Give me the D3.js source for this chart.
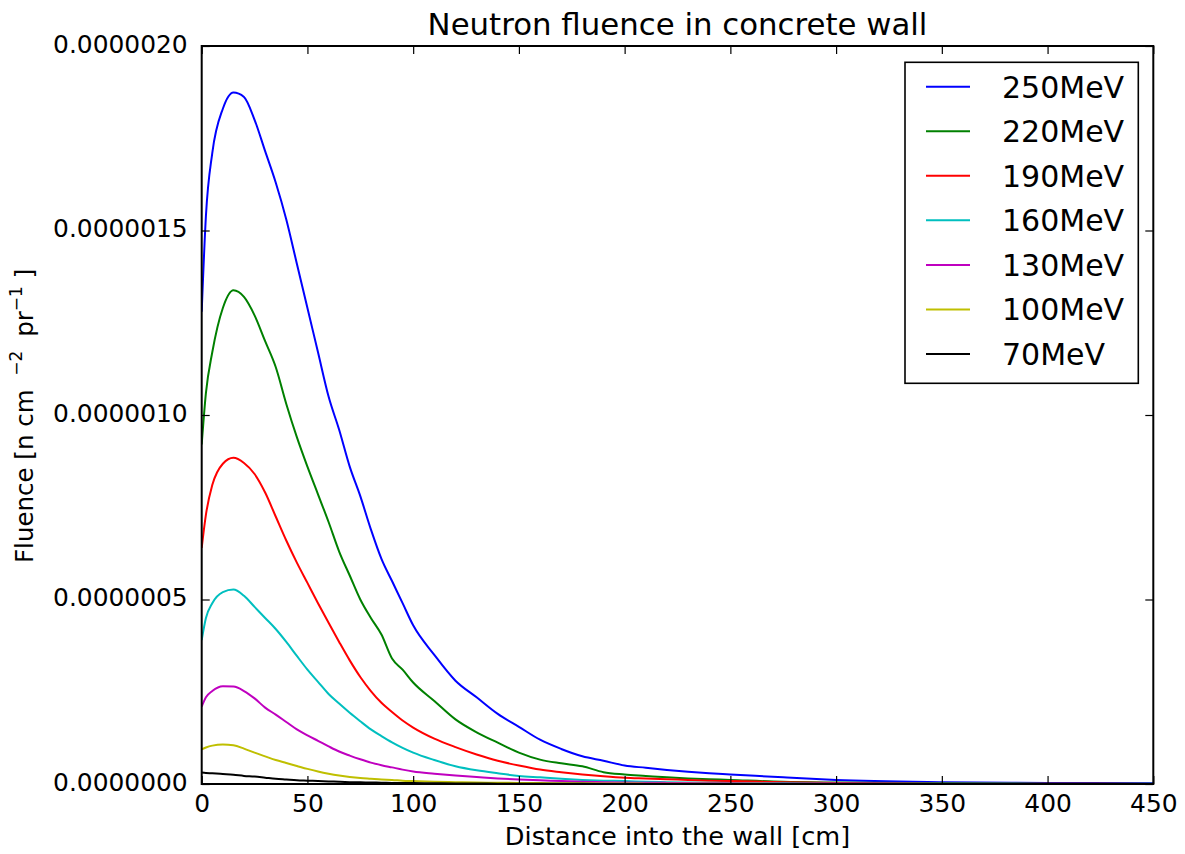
<!DOCTYPE html>
<html>
<head>
<meta charset="utf-8">
<script src="https://cdn.jsdelivr.net/npm/d3@7"></script>
<style>
body { margin: 0; background: #fff; }
text { font-family: "DejaVu Sans", sans-serif; fill: #000; }
</style>
</head>
<body>
<svg id="chart" width="1185" height="854"></svg>
<script>
// distance into the wall [cm]
const distance = [0, 2, 5, 10, 15, 20, 25, 30, 35, 40, 45, 50, 55, 60, 65, 70, 75, 80, 85, 90, 95, 100,
    110, 120, 130, 140, 150, 160, 170, 180, 190, 200, 210, 220, 230, 240, 250, 275, 300, 350, 400, 450];

// fluence values, in units of 1e-6 n cm^-2 pr^-1
const f250 = [1.28, 1.54, 1.71, 1.83, 1.874, 1.862, 1.80, 1.715, 1.63, 1.53, 1.41, 1.29, 1.17, 1.05, 0.96, 0.86, 0.78, 0.69, 0.61, 0.55, 0.49, 0.43,
    0.35, 0.28, 0.235, 0.19, 0.155, 0.12, 0.095, 0.075, 0.063, 0.05, 0.044, 0.038, 0.033, 0.029, 0.026, 0.018, 0.011, 0.005, 0.003, 0.002];
const f220 = [0.92, 1.06, 1.17, 1.29, 1.338, 1.32, 1.27, 1.20, 1.13, 1.03, 0.94, 0.86, 0.785, 0.71, 0.63, 0.565, 0.50, 0.45, 0.405, 0.34, 0.31, 0.275,
    0.225, 0.175, 0.14, 0.112, 0.085, 0.066, 0.056, 0.048, 0.032, 0.026, 0.022, 0.018, 0.015, 0.013, 0.011, 0.006, 0.004, 0.002, 0.001, 0.001];
const f190 = [0.64, 0.73, 0.81, 0.868, 0.884, 0.87, 0.84, 0.79, 0.725, 0.66, 0.60, 0.545, 0.49, 0.437, 0.385, 0.335, 0.29, 0.252, 0.22, 0.195, 0.172, 0.153,
    0.123, 0.10, 0.08, 0.063, 0.05, 0.039, 0.032, 0.026, 0.021, 0.017, 0.015, 0.013, 0.011, 0.009, 0.008, 0.005, 0.003, 0.001, 0.0005, 0.0003];
const f160 = [0.39, 0.45, 0.49, 0.52, 0.527, 0.51, 0.48, 0.45, 0.42, 0.385, 0.347, 0.31, 0.277, 0.244, 0.218, 0.193, 0.17, 0.148, 0.13, 0.113, 0.098, 0.085,
    0.065, 0.048, 0.037, 0.029, 0.022, 0.018, 0.014, 0.011, 0.009, 0.008, 0.006, 0.005, 0.004, 0.0035, 0.003, 0.002, 0.001, 0.0005, 0.0003, 0.0002];
const f130 = [0.21, 0.235, 0.252, 0.265, 0.264, 0.252, 0.232, 0.207, 0.188, 0.168, 0.148, 0.132, 0.117, 0.102, 0.088, 0.077, 0.067, 0.058, 0.051, 0.045, 0.039, 0.034,
    0.028, 0.023, 0.019, 0.015, 0.012, 0.01, 0.008, 0.006, 0.005, 0.004, 0.0035, 0.003, 0.0025, 0.002, 0.0018, 0.001, 0.0007, 0.0003, 0.0002, 0.0001];
const f100 = [0.094, 0.099, 0.104, 0.107, 0.105, 0.096, 0.085, 0.075, 0.065, 0.057, 0.049, 0.041, 0.034, 0.028, 0.023, 0.019, 0.016, 0.014, 0.012, 0.011, 0.009, 0.008,
    0.006, 0.005, 0.004, 0.0035, 0.003, 0.0025, 0.002, 0.0018, 0.0015, 0.0012, 0.001, 0.0008, 0.0007, 0.0006, 0.0005, 0.0003, 0.0002, 0.0001, 0.0001, 0.0001];
const f70 = [0.031, 0.030, 0.029, 0.027, 0.025, 0.022, 0.020, 0.017, 0.014, 0.012, 0.010, 0.009, 0.008, 0.007, 0.006, 0.005, 0.0045, 0.004, 0.0035, 0.003, 0.0027, 0.0024,
    0.002, 0.0016, 0.0013, 0.001, 0.0008, 0.0006, 0.0005, 0.0004, 0.0003, 0.0003, 0.0002, 0.0002, 0.0002, 0.0001, 0.0001, 0.0001, 0.0001, 0, 0, 0];

const energies = ["250MeV", "220MeV", "190MeV", "160MeV", "130MeV", "100MeV", "70MeV"];
const colors = ["#0000ff", "#008000", "#ff0000", "#00bfbf", "#bf00bf", "#bfbf00", "#000000"];
const xTicks = [0, 50, 100, 150, 200, 250, 300, 350, 400, 450];
const yTicks = [0, 0.5e-6, 1.0e-6, 1.5e-6, 2.0e-6];

const unit = 1e-6;
const allSeries = [f250, f220, f190, f160, f130, f100, f70];

const svg = d3.select("#chart");
const plotL = 201.7, plotR = 1153.3, plotT = 46, plotB = 784;

const x = d3.scaleLinear().domain([0, 450]).range([plotL, plotR]);
const y = d3.scaleLinear().domain([0, 2e-6]).range([plotB, plotT]);

svg.append("defs").append("clipPath").attr("id", "plotclip")
    .append("rect").attr("x", plotL).attr("y", plotT - 2).attr("width", plotR - plotL).attr("height", plotB - plotT + 2);

// curves
const line = d3.line()
    .curve(d3.curveMonotoneX)
    .x(d => x(d[0]))
    .y(d => y(d[1]));

const curves = svg.append("g").attr("clip-path", "url(#plotclip)");
allSeries.forEach((vals, i) => {
    let pts = distance.map((d, j) => [d, vals[j] * unit]);
    curves.append("path")
        .datum(pts)
        .attr("d", line)
        .attr("fill", "none")
        .attr("stroke", colors[i])
        .attr("stroke-width", 2)
        .attr("stroke-linejoin", "round");
});

// axes, ticks pointing inward
const fmt = d3.format(".7f");
let gx = svg.append("g").attr("transform", `translate(0,${plotB})`)
    .call(d3.axisBottom(x).tickValues(xTicks).tickSize(-8).tickPadding(10).tickFormat(d3.format("d")));
let gxTop = svg.append("g").attr("transform", `translate(0,${plotT})`)
    .call(d3.axisTop(x).tickValues(xTicks).tickSize(-8).tickFormat(""));
let gy = svg.append("g").attr("transform", `translate(${plotL},0)`)
    .call(d3.axisLeft(y).tickValues(yTicks).tickSize(-8).tickPadding(14).tickFormat(fmt));
let gyRight = svg.append("g").attr("transform", `translate(${plotR},0)`)
    .call(d3.axisRight(y).tickValues(yTicks).tickSize(-8).tickFormat(""));

[gx, gxTop, gy, gyRight].forEach(g => {
    g.select(".domain").remove();
    g.selectAll(".tick line").attr("stroke", "#000").attr("stroke-width", 1.2);
    g.selectAll(".tick text").attr("font-size", 24.9).attr("fill", "#000")
        .style("font-family", "'DejaVu Sans', sans-serif");
});
gy.selectAll(".tick text").attr("dy", "0.26em");

// frame
svg.append("rect")
    .attr("x", plotL).attr("y", plotT)
    .attr("width", plotR - plotL).attr("height", plotB - plotT)
    .attr("fill", "none").attr("stroke", "#000").attr("stroke-width", 2);

// title and axis labels
svg.append("text")
    .attr("x", (plotL + plotR) / 2).attr("y", 35)
    .attr("text-anchor", "middle").attr("font-size", 30.8)
    .text("Neutron fluence in concrete wall");

svg.append("text")
    .attr("x", (plotL + plotR) / 2).attr("y", 845)
    .attr("text-anchor", "middle").attr("font-size", 25.6)
    .text("Distance into the wall [cm]");

let ylab = svg.append("text")
    .attr("transform", "translate(33,563) rotate(-90)")
    .attr("font-size", 24.5);
ylab.append("tspan").text("Fluence [n cm ");
ylab.append("tspan").attr("font-size", 17).attr("dy", -11).attr("dx", 6).text("\u22122");
ylab.append("tspan").attr("dy", 11).attr("dx", 6).text(" pr");
ylab.append("tspan").attr("font-size", 17).attr("dy", -11).text("\u22121");
ylab.append("tspan").attr("dy", 11).text(" ]");

// legend
const legend = svg.append("g");
legend.append("rect")
    .attr("x", 905).attr("y", 62.3)
    .attr("width", 233.3).attr("height", 321)
    .attr("fill", "#fff").attr("stroke", "#000").attr("stroke-width", 1.6);

energies.forEach((name, i) => {
    let ly = 86.7 + i * 44.55;
    legend.append("line")
        .attr("x1", 926).attr("x2", 970)
        .attr("y1", ly).attr("y2", ly)
        .attr("stroke", colors[i]).attr("stroke-width", 2);
    legend.append("text")
        .attr("x", 1002).attr("y", ly + 11)
        .attr("font-size", 30)
        .text(name);
});
</script>
</body>
</html>
